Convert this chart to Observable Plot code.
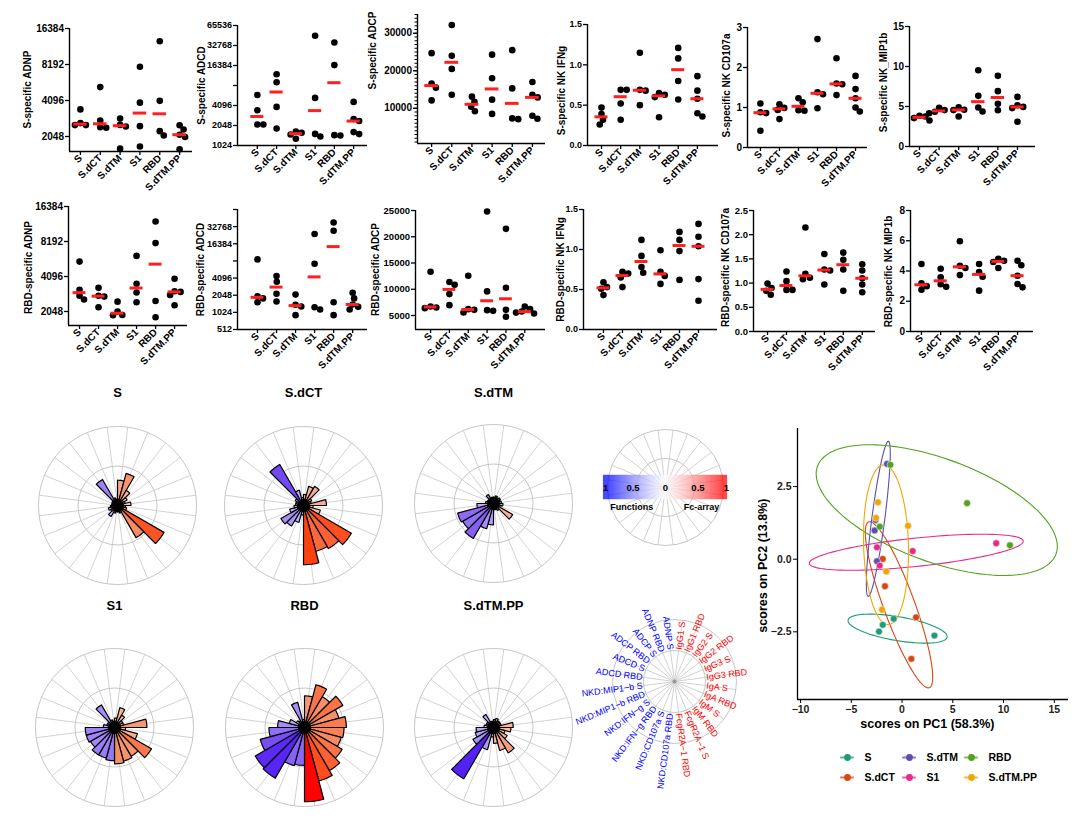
<!DOCTYPE html>
<html><head><meta charset="utf-8">
<script src="https://cdn.jsdelivr.net/npm/d3@7"></script>
<script src="https://cdn.jsdelivr.net/npm/@observablehq/plot@0.6"></script>
<style>
body{margin:0;background:#fff;}
#root{position:relative;width:1083px;height:828px;overflow:hidden;background:#fff;font-family:"Liberation Sans",Arial,sans-serif;}
#root svg{position:absolute;}
</style></head><body><div id="root"></div>
<script>
// ---------- DATA ----------
const groups = ["S","S.dCT","S.dTM","S1","RBD","S.dTM.PP"];

// S-specific (one list per immunogen group)
const sADNP = [[3450,2550,2650,2550],[5300,2780,2420,2450],[2900,2560,2480,1620],[7850,3930,2500,1690],[12800,4070,2090,2270],[2540,2340,2120,2030,1600]];
const sADCD = [[5900,3470,2120,2120],[12070,9170,3900,1845],[1660,1590,1500,1295],[46000,5330,1400,1530],[36400,16600,1450,1465],[4640,2390,2570,1520,1630]];
const sADCP = [[24700,16600,15500,12100],[32200,24000,20500,13600],[11700,13100,10400,9200],[24300,18000,12300,8500],[25500,15300,7100,7300],[12900,17000,13600,7200,8000]];
const sIFNg = [[0.47,0.39,0.32,0.26],[0.69,0.69,0.52,0.32],[0.69,1.15,0.68,0.5],[0.65,0.63,0.60,0.35],[1.21,1.08,0.80,0.57],[0.86,0.68,0.58,0.36,0.40]];
const sCD107a = [[1.10,0.88,0.86,0.42],[0.99,1.08,0.94,0.71],[1.23,1.13,0.92,0.93],[2.71,1.38,1.33,0.98],[2.23,1.60,1.58,1.31],[1.79,1.46,1.23,0.90,1.00]];
const sMIP1b = [[3.25,3.55,3.75,3.85],[4.15,4.35,4.55,4.85],[4.9,4.6,4.55,3.75],[9.54,6.33,4.38,4.88],[8.83,6.92,5.33,4.54],[6.2,5.15,4.8,4.95,3.1]];

// RBD-specific
const rADNP = [[5500,3150,2800,2600],[3270,2800,2750,2230],[2490,2050,1900,1910],[6160,3540,2980,2460],[12160,7940,2520,1830],[3920,3060,3020,2840,2320]];
const rADCD = [[8720,1960,1800,1545],[4450,3520,2170,1590],[2100,1390,1300,915],[24400,7330,1150,1260],[38800,27700,1540,915],[2260,1800,1410,1150,1280]];
const rADCP = [[13340,6400,6720,6530],[10860,11370,9080,6975],[12580,5570,6210,6080],[24810,9590,5890,6020],[21500,10290,6080,4750],[6720,6210,5750,5550,5380]];
const rIFNg = [[0.53,0.59,0.51,0.43],[0.70,0.72,0.65,0.53],[1.12,0.92,0.78,0.71],[0.99,0.72,0.67,0.57],[1.22,1.12,0.98,0.62],[1.32,1.16,1.04,0.63,0.36]];
const rCD107a = [[0.90,0.99,0.84,0.76],[1.24,1.04,0.86,0.86],[2.15,1.19,1.08,1.11],[1.60,1.28,1.26,0.97],[1.63,1.48,1.28,0.84],[1.39,1.26,1.10,0.97,0.81]];
const rMIP1b = [[4.46,3.18,3.0,2.76],[4.15,3.58,2.96,3.12],[5.97,4.35,4.2,3.73],[4.46,3.93,3.62,2.7],[4.8,4.6,4.68,4.2],[4.68,4.38,3.69,2.92,3.14]];

// Polar (flower) plots: 24 features
const features = ["IgG1 S","IgG1 RBD","IgG2 S","IgG2 RBD","IgG3 S","IgG3 RBD","IgA S","IgA RBD","IgM S","IgM RBD","FcgR2A−1 S","FcgR2A−1 RBD",
  "NKD:CD107a RBD","NKD:CD107a S","NKD:IFN−g RBD","NKD:IFN−g S","NKD:MIP1−b RBD","NKD:MIP1−b S","ADCD RBD","ADCD S","ADCP RBD","ADCP S","ADNP RBD","ADNP S"];
const roseS      = [0.32,0.42,0.22,0.14,0.10,0.17,0.10,0.12,0.68,0.47,0.10,0.08, 0.08,0.10,0.16,0.10,0.12,0.09,0.07,0.07,0.08,0.38,0.10,0.08];
const roseSdCT   = [0.14,0.25,0.28,0.12,0.10,0.29,0.12,0.22,0.70,0.63,0.60,0.75, 0.12,0.22,0.30,0.33,0.18,0.12,0.10,0.10,0.12,0.60,0.20,0.10];
const roseSdTM   = [0.08,0.10,0.08,0.10,0.09,0.10,0.12,0.10,0.28,0.10,0.08,0.08, 0.27,0.33,0.51,0.45,0.47,0.21,0.10,0.08,0.07,0.13,0.08,0.08];
const roseS1     = [0.12,0.26,0.18,0.12,0.12,0.41,0.14,0.30,0.54,0.42,0.44,0.46, 0.42,0.40,0.40,0.35,0.37,0.37,0.14,0.10,0.10,0.33,0.10,0.08];
const roseRBD    = [0.40,0.56,0.45,0.56,0.45,0.53,0.50,0.48,0.55,0.63,0.70,0.94, 0.48,0.50,0.74,0.72,0.58,0.45,0.34,0.20,0.12,0.10,0.33,0.10];
const roseSdTMPP = [0.10,0.12,0.10,0.10,0.10,0.25,0.22,0.15,0.20,0.37,0.30,0.20, 0.12,0.29,0.75,0.30,0.24,0.22,0.12,0.10,0.10,0.19,0.08,0.08];

// PCA scores [PC1, PC2]
const pcaS      = [[-0.82,-2.05],[-1.9,-2.26],[-2.27,-2.49],[3.19,-2.63]];
const pcaSdCT   = [[-1.9,0.01],[-1.68,-0.93],[1.38,-2.0],[0.92,-3.43]];
const pcaSdTM   = [[-1.48,3.28],[-2.7,0.99],[-2.47,-0.07],[-2.6,1.35]];
const pcaS1     = [[-2.47,0.41],[-2.2,-0.22],[1.05,0.28],[9.28,0.55]];
const pcaRBD    = [[-1.15,3.25],[-2.2,1.12],[6.41,1.93],[10.63,0.48]];
const pcaSdTMPP = [[-2.37,1.96],[-2.57,1.42],[0.59,1.15],[-1.55,-0.42],[-1.97,-1.74]];
// ellipse: [center PC1, center PC2, half-width PC1, PC2 shift at x-extreme, half-height PC2]
const ellS      = [-0.44,-2.39, 4.88,-0.275,0.50];
const ellSdCT   = [-0.30,-1.57, 3.32,-2.49, 2.86];
const ellSdTM   = [-2.34, 1.39, 1.18, 2.24, 2.67];
const ellS1     = [ 1.40, 0.24,10.54, 0.38, 0.62];
const ellRBD    = [ 3.42, 1.69,11.88,-1.25, 2.25];
const ellSdTMPP = [-1.58, 0.50, 2.22,-0.26, 2.75];
const groupColors = ["#1B9E77","#D9460F","#5B4DB3","#E7298A","#52A31C","#F2A602"];

// ---------- HELPERS ----------
const root = document.getElementById("root");
const baseStyle = {background:"transparent", overflow:"visible", fontFamily:"'Liberation Sans', Arial, sans-serif", fontSize:"10px", fontWeight:"bold", color:"#000"};
function place(svg, left, top){ svg.style.left = left+"px"; svg.style.top = top+"px"; root.appendChild(svg); }

function swarm(ys, d){
  const n = ys.length, off = new Array(n).fill(0), placed = [];
  const order = d3.range(n).sort((a,b)=>ys[a]-ys[b]);
  for (const i of order){
    let best = 0;
    outer: for (let s=0; s<60; s+=0.25){
      for (const c of (s===0?[0]:[s,-s])){
        if (placed.every(j=>Math.hypot(c-off[j], ys[i]-ys[j]) >= d)){ best=c; break outer; }
      }
    }
    off[i]=best; placed.push(i);
  }
  return off;
}

function dotPanel(c){
  const mL=62,mR=6,mT=8,mB=58;
  const fw=c.ex-c.ax, fh=c.yb-c.yt;
  const ys=(c.type==="log"?d3.scaleLog():d3.scaleLinear()).domain(c.domain).range([fh,0]);
  const unit=fw/(5+c.lo+c.hi);
  const pts=[];
  c.vals.forEach((arr,g)=>{ const off=swarm(arr.map(v=>ys(v)),5.8); arr.forEach((v,k)=>pts.push({g,v,x:g+off[k]/unit})); });
  const med=c.vals.map((arr,g)=>({g,v:d3.median(arr)}));
  const fmt=c.fmt?d3.format(c.fmt):(d=>String(d));
  const titleX=-c.lo+(c.tx-c.ax)/unit, titleY=ys.invert(c.ty-c.yt);
  const tf=c.tf||10;
  const marks=[
    Plot.ruleX([-c.lo],{stroke:"#000",strokeWidth:1.4}),
    Plot.ruleY([c.domain[0]],{stroke:"#000",strokeWidth:1.4})
  ];
  if (c.minor) marks.push(Plot.axisY({ticks:c.minor,tickSize:2.5,tickFormat:()=>"",label:null,strokeWidth:1}));
  marks.push(
    Plot.axisY({ticks:c.ticks,tickFormat:fmt,tickSize:4,tickPadding:1.5,label:null,strokeWidth:1.3,fontSize:tf}),
    Plot.axisX({ticks:d3.range(6),tickFormat:i=>groups[i],tickRotate:-45,tickSize:4,tickPadding:1,label:null,strokeWidth:1.3}),
    Plot.dot(pts,{x:"x",y:"v",r:3.3,fill:"#000"}),
    Plot.ruleY(med,{y:"v",x1:d=>d.g-0.34,x2:d=>d.g+0.34,stroke:"#ff1f1f",strokeWidth:3}),
    Plot.text([c.label],{text:d=>d,x:titleX,y:titleY,rotate:-90,fontSize:10,fontWeight:"bold"})
  );
  const svg=Plot.plot({width:fw+mL+mR,height:fh+mT+mB,marginLeft:mL,marginRight:mR,marginTop:mT,marginBottom:mB,
    x:{domain:[-c.lo,5+c.hi]},y:{type:c.type||"linear",domain:c.domain},style:baseStyle,marks});
  place(svg,c.ax-mL,c.yt-mT);
}

const log2ticks=(a,b)=>d3.range(a,b+1).map(k=>2**k);
const panels=[
 {vals:sADNP,label:"S-specific ADNP",ax:69,ex:192,yt:28,yb:151,lo:0.55,hi:0.65,type:"log",domain:[1534,16384],ticks:log2ticks(11,14),tx:27,ty:89},
 {vals:sADCD,label:"S-specific ADCD",ax:237,ex:367,yt:25,yb:145,lo:1.03,hi:0.72,type:"log",domain:[1024,65536],ticks:log2ticks(10,16),tf:9,tx:201,ty:85},
 {vals:sADCP,label:"S-specific ADCP",ax:417,ex:545,yt:14,yb:143,lo:0.7,hi:0.65,domain:[600,35000],ticks:[10000,20000,30000],minor:d3.range(1000,35001,1000),tx:372,ty:50},
 {vals:sIFNg,label:"S-specific NK IFNg",ax:587,ex:718,yt:24,yb:145,lo:0.73,hi:1.1,domain:[0,1.5],ticks:[0,0.5,1,1.5],fmt:".1f",tf:9,tx:561,ty:90},
 {vals:sCD107a,label:"S-specific NK CD107a",ax:747,ex:867,yt:27,yb:147,lo:0.68,hi:0.63,domain:[0,3],ticks:[0,1,2,3],fmt:"d",tx:726,ty:85},
 {vals:sMIP1b,label:"S-specific NK_MIP1b",ax:909,ex:1035,yt:26,yb:146,lo:0.51,hi:0.92,domain:[0,15],ticks:[0,5,10,15],fmt:"d",tx:883,ty:82},
 {vals:rADNP,label:"RBD-specific ADNP",ax:68,ex:187,yt:206,yb:325,lo:0.58,hi:0.68,type:"log",domain:[1552,16384],ticks:log2ticks(11,14),tx:28,ty:267},
 {vals:rADCD,label:"RBD-specific ADCD",ax:237,ex:367,yt:209,yb:329,lo:1.05,hi:0.78,type:"log",domain:[512,65536],ticks:log2ticks(9,16),tf:9,tx:200,ty:269},
 {vals:rADCP,label:"RBD-specific ADCP",ax:415,ex:545,yt:210,yb:329,lo:0.8,hi:1.1,domain:[2333,25000],ticks:[5000,10000,15000,20000,25000],tf:9.5,tx:375,ty:269},
 {vals:rIFNg,label:"RBD-specific NK IFNg",ax:583,ex:717,yt:209,yb:329,lo:1.05,hi:1.0,domain:[0,1.5],ticks:[0,0.5,1,1.5],fmt:".1f",tf:9,tx:560,ty:269},
 {vals:rCD107a,label:"RBD-specific NK CD107a",ax:753,ex:875,yt:210,yb:331,lo:0.74,hi:0.7,domain:[0,2.5],ticks:[0,0.5,1,1.5,2,2.5],fmt:".1f",tf:9.5,tx:725,ty:267},
 {vals:rMIP1b,label:"RBD-specific NK MIP1b",ax:910,ex:1033,yt:210,yb:331,lo:0.57,hi:0.83,domain:[0,8],ticks:[0,2,4,6,8],fmt:"d",tx:888,ty:271}
];
panels.forEach(dotPanel);

// ---------- POLAR PLOTS ----------
const redScale=d3.scaleLinear().domain([0,0.45,0.75,0.95]).range(["#fde0d4","#f7906a","#ff4010","#ff0000"]).clamp(true);
const blueScale=d3.scaleLinear().domain([0,0.4,0.75]).range(["#e4defc","#9a7cf6","#5522f5"]).clamp(true);
function polar(r,deg){const a=deg*Math.PI/180;return [r*Math.sin(a),r*Math.cos(a)];}
function gridMarks(R){
  return [
    Plot.link(d3.range(24),{x1:0,y1:0,x2:i=>polar(1,(i+0.5)*15)[0],y2:i=>polar(1,(i+0.5)*15)[1],stroke:"#cdcdcd",strokeWidth:0.9}),
    Plot.dot([0],{x:0,y:0,r:R*0.5,fill:"none",stroke:"#c6c6c6",strokeWidth:1}),
    Plot.dot([0],{x:0,y:0,r:R,fill:"none",stroke:"#c6c6c6",strokeWidth:1})
  ];
}
function polarPlot(R,cx,cy,W,H,top,marks){
  const left=cx-W/2;
  const svg=Plot.plot({width:W,height:H,margin:0,
    x:{domain:[-W/2/R,W/2/R],range:[0,W],axis:null},
    y:{domain:[-(top+H-cy)/R,(cy-top)/R],range:[H,0],axis:null},
    color:{type:"identity"},style:baseStyle,marks});
  place(svg,left,top);
}
function rose(vals,title,cx,cy,ty){
  const R=79, pts=[];
  vals.forEach((v,i)=>{
    const c=(i+0.5)*15, fill=i<12?redScale(v):blueScale(v);
    pts.push({i,x:0,y:0,fill});
    for(let k=0;k<=6;k++){const [x,y]=polar(v,c-7.5+k*2.5);pts.push({i,x,y,fill});}
  });
  polarPlot(R,cx,cy,190,250,cy-135,[
    ...gridMarks(R),
    Plot.line(pts,{x:"x",y:"y",z:"i",fill:"fill",stroke:"#000",strokeWidth:1.2,strokeLinejoin:"round",curve:"linear-closed"}),
    Plot.dot([0],{x:0,y:0,r:6.5,fill:"#000"}),
    Plot.text([title],{x:0,y:(cy-ty)/R,text:d=>d,fontSize:13,fontWeight:"bold"})
  ]);
}
rose(roseS,"S",117,505,392);
rose(roseSdCT,"S.dCT",303,505,392);
rose(roseSdTM,"S.dTM",493,503,392);
rose(roseS1,"S1",114,727,605);
rose(roseRBD,"RBD",304,727,605);
rose(roseSdTMPP,"S.dTM.PP",493,727,605);

// colour legend wheel
(function(){
  const R=58, cells=d3.range(-1.07,1.07,0.01).map(x=>({x}));
  const col=x=>x<0?d3.interpolateRgb("#ffffff","#0000ff")(Math.pow(Math.min(1,-x),1.2)):d3.interpolateRgb("#ffffff","#ff0000")(Math.pow(Math.min(1,x),1.2));
  polarPlot(R,665,487,160,150,412,[
    ...gridMarks(R),
    Plot.rect(cells,{x1:d=>d.x,x2:d=>d.x+0.0105,y1:-0.21,y2:0.21,fill:d=>col(d.x+0.005),fillOpacity:0.9}),
    Plot.text(["1","0.5","0","0.5","1"],{x:[-1.03,-0.56,0,0.56,1.05],y:0,text:d=>d,fontSize:9.5,fontWeight:"bold"}),
    Plot.text(["Functions","Fc-array"],{x:[-0.58,0.62],y:-0.33,text:d=>d,fontSize:9,fontWeight:"bold"})
  ]);
})();

// feature label wheel
(function(){
  const R=62;
  const lab=features.map((f,i)=>{const th=(i+0.5)*15;const [x,y]=polar(0.52,th);return {f,i,x,y,rot:i<12?th-90:th+90};});
  polarPlot(R,674,681,240,240,561,[
    ...gridMarks(R),
    Plot.dot([0],{x:0,y:0,r:2,fill:"#999"}),
    Plot.text(lab.filter(d=>d.i<12),{x:"x",y:"y",text:"f",rotate:"rot",textAnchor:"start",fill:"#ff0000",fontSize:9,fontWeight:"normal"}),
    Plot.text(lab.filter(d=>d.i>=12),{x:"x",y:"y",text:"f",rotate:"rot",textAnchor:"end",fill:"#0000ff",fontSize:9,fontWeight:"normal"})
  ]);
})();

// ---------- PCA ----------
(function(){
  const sets=[pcaS,pcaSdCT,pcaSdTM,pcaS1,pcaRBD,pcaSdTMPP];
  const ells=[ellS,ellSdCT,ellSdTM,ellS1,ellRBD,ellSdTMPP];
  const pts=sets.flatMap((s,g)=>s.map(([x,y])=>({g,x,y,c:groupColors[g]})));
  const ep=ells.flatMap(([cx,cy,ax,ay,h],g)=>{const by=Math.sqrt(h*h-ay*ay);return d3.range(0,120).map(k=>{const t=k/120*2*Math.PI;return {g,c:groupColors[g],x:cx+ax*Math.cos(t),y:cy+ay*Math.cos(t)+by*Math.sin(t)};});});
  const svg=Plot.plot({width:343,height:320,marginLeft:57,marginRight:15,marginTop:8,marginBottom:41,
    x:{domain:[-10.3,16.4]},y:{domain:[-4.83,4.5]},color:{type:"identity"},style:{...baseStyle,fontSize:"10.5px"},
    marks:[
      Plot.ruleX([-10.3],{stroke:"#000",strokeWidth:1.3}),
      Plot.ruleY([-4.83],{stroke:"#000",strokeWidth:1.3}),
      Plot.axisX({ticks:[-10,-5,0,5,10,15],tickSize:4,tickPadding:2,label:null,fill:"#222"}),
      Plot.axisY({ticks:[-2.5,0,2.5],tickFormat:d3.format(".1f"),tickSize:4,tickPadding:2,label:null,fill:"#222"}),
      Plot.line(ep,{x:"x",y:"y",z:"g",stroke:"c",strokeWidth:1.1,curve:"linear-closed"}),
      Plot.dot(pts,{x:"x",y:"y",fill:"c",r:3.4,stroke:"#e8e8e8",strokeWidth:0.6}),
      Plot.text(["scores on PC1 (58.3%)"],{text:d=>d,x:2.5,y:-5.66,fontSize:12.5,fontWeight:"bold"}),
      Plot.text(["scores on PC2 (13.8%)"],{text:d=>d,x:-13.65,y:-0.22,rotate:-90,fontSize:12.5,fontWeight:"bold"})
    ]});
  place(svg,740,420);
  const items=groups.map((g,i)=>({g,col:Math.floor(i/2),row:i%2,c:groupColors[i]}));
  const leg=Plot.plot({width:240,height:45,margin:0,x:{domain:[0,2],range:[27,151],axis:null},y:{domain:[0,1],range:[12,32],axis:null},
    color:{type:"identity"},style:{...baseStyle,fontSize:"10.5px"},
    marks:[
      Plot.ruleY(items,{y:"row",x1:d=>d.col-0.11,x2:d=>d.col+0.11,stroke:"c",strokeWidth:2,strokeOpacity:0.75}),
      Plot.dot(items,{x:"col",y:"row",fill:"c",r:3.4}),
      Plot.text(items,{x:"col",y:"row",text:"g",dx:17,textAnchor:"start",fontSize:10.5,fontWeight:"bold"})
    ]});
  place(leg,820,745);
})();
</script></body></html>
